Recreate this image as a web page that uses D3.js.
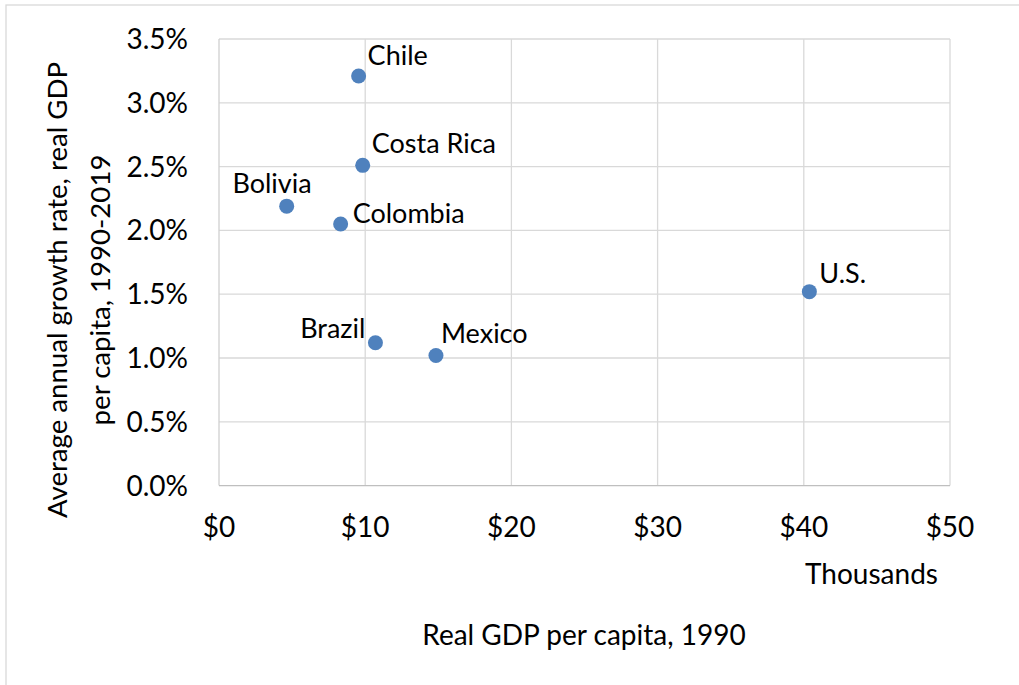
<!DOCTYPE html>
<html>
<head>
<meta charset="utf-8">
<script src="https://cdn.jsdelivr.net/npm/d3@7"></script>
<style>
  body { margin: 0; background: #fff; }
  svg text { font-family: Lato, "Open Sans", sans-serif; fill: #000; }
</style>
</head>
<body>
<svg width="1019" height="685"></svg>
<script>
// data
var countries = ["Chile", "Costa Rica", "Bolivia", "Colombia", "Brazil", "Mexico", "U.S."];
var gdp1990 = [9.55, 9.83, 4.63, 8.32, 10.7, 14.84, 40.38];       // thousands of $
var growth = [0.0321, 0.0251, 0.0219, 0.0205, 0.0112, 0.0102, 0.0152];
var xTicks = [0, 10, 20, 30, 40, 50];
var yTicks = [0, 0.005, 0.01, 0.015, 0.02, 0.025, 0.03, 0.035];

// label placement relative to each dot (anchor, dx, dy)
var labelAnchor = ["start", "start", "end", "start", "end", "start", "start"];
var labelDx = [9, 9, 25, 12, -10, 5, 10];
var labelDy = [-11, -12, -13, -1, -5, -12, -9];

var svg = d3.select("svg");

// outer frame (cut at the right and bottom)
svg.append("rect")
    .attr("x", 6).attr("y", 5)
    .attr("width", 1030).attr("height", 700)
    .attr("fill", "none")
    .attr("stroke", "#d9d9d9")
    .attr("stroke-width", 1.3);

var x = d3.scaleLinear().domain([0, 50]).range([219, 950]);
var y = d3.scaleLinear().domain([0, 0.035]).range([485.6, 39]);

// gridlines
svg.append("g").selectAll("line")
    .data(xTicks.slice(1))
    .enter().append("line")
    .attr("x1", d => x(d)).attr("x2", d => x(d))
    .attr("y1", y(0.035)).attr("y2", y(0))
    .attr("stroke", "#d9d9d9").attr("stroke-width", 1.3);

svg.append("g").selectAll("line")
    .data(yTicks.slice(1))
    .enter().append("line")
    .attr("x1", x(0)).attr("x2", x(50))
    .attr("y1", d => y(d)).attr("y2", d => y(d))
    .attr("stroke", "#d9d9d9").attr("stroke-width", 1.3);

// axis lines
svg.append("line")
    .attr("x1", x(0)).attr("x2", x(0))
    .attr("y1", y(0.035)).attr("y2", y(0))
    .attr("stroke", "#d0d0d0").attr("stroke-width", 1.3);
svg.append("line")
    .attr("x1", x(0)).attr("x2", x(50))
    .attr("y1", y(0)).attr("y2", y(0))
    .attr("stroke", "#bfbfbf").attr("stroke-width", 1.3);

// tick labels
var pct = d3.format(".1%");
svg.append("g").selectAll("text")
    .data(yTicks)
    .enter().append("text")
    .attr("x", 188)
    .attr("y", d => y(d))
    .attr("dy", "0.36em")
    .attr("text-anchor", "end")
    .attr("font-size", 28)
    .text(d => pct(d));

svg.append("g").selectAll("text")
    .data(xTicks)
    .enter().append("text")
    .attr("x", d => x(d))
    .attr("y", 536.5)
    .attr("text-anchor", "middle")
    .attr("font-size", 28)
    .text(d => "$" + d);

// axis titles
svg.append("text")
    .attr("x", 871.5).attr("y", 584)
    .attr("text-anchor", "middle")
    .attr("font-size", 28)
    .text("Thousands");

svg.append("text")
    .attr("x", 584).attr("y", 645)
    .attr("text-anchor", "middle")
    .attr("font-size", 28)
    .text("Real GDP per capita, 1990");

var yt = svg.append("text")
    .attr("transform", "translate(67,290) rotate(-90)")
    .attr("text-anchor", "middle")
    .attr("font-size", 27.6);
yt.append("tspan").attr("x", 0).attr("y", 0).text("Average annual growth rate, real GDP");
yt.append("tspan").attr("x", 0).attr("y", 43).text("per capita, 1990-2019");

// points
var pts = d3.range(countries.length);
svg.append("g").selectAll("circle")
    .data(pts)
    .enter().append("circle")
    .attr("cx", i => x(gdp1990[i]))
    .attr("cy", i => y(growth[i]))
    .attr("r", 7.5)
    .attr("fill", "#4f81bd");

// data labels
svg.append("g").selectAll("text")
    .data(pts)
    .enter().append("text")
    .attr("x", i => x(gdp1990[i]) + labelDx[i])
    .attr("y", i => y(growth[i]) + labelDy[i])
    .attr("text-anchor", i => labelAnchor[i])
    .attr("font-size", 27)
    .text(i => countries[i]);
</script>
</body>
</html>
